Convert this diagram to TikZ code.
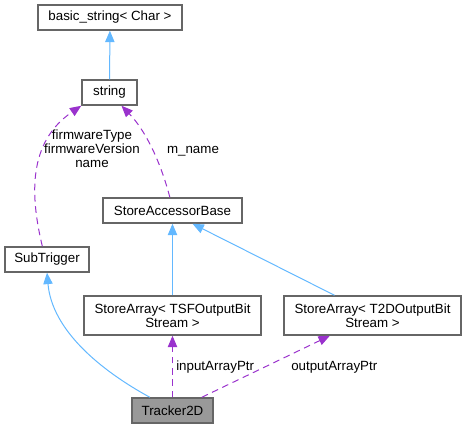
\documentclass[tikz,border=0pt]{standalone}
\usepackage{fontspec}
\setmainfont{Liberation Sans}
\usetikzlibrary{arrows.meta}
\definecolor{edgeblue}{HTML}{63B8FF}
\definecolor{edgepurple}{HTML}{9A32CD}
\definecolor{boxgray}{HTML}{666666}
\definecolor{mainfill}{HTML}{999999}
\tikzset{
  cls/.style={draw=boxgray,fill=white,line width=1.1pt,inner sep=0pt,
    minimum height=18.75pt,align=center,font=\fontsize{10}{10.5}\selectfont},
  inherit/.style={draw=edgeblue,line width=0.75pt,
    -{Triangle[length=8.5pt,width=7pt,fill=edgeblue]}},
  usage/.style={draw=edgepurple,line width=0.75pt,dash pattern=on 5pt off 3.5pt,
    -{Triangle[length=8.5pt,width=7pt,fill=edgepurple]}},
  lbl/.style={inner sep=0pt,align=center,font=\fontsize{10}{10.5}\selectfont}
}
\begin{document}
\begin{tikzpicture}[x=0.75pt,y=-0.75pt]
  \useasboundingbox (0,0) rectangle (466,429);
  % classes
  \node[cls,minimum width=108pt] (basicstr) at (110,17.5) {basic\_string< Char >};
  \node[cls,minimum width=41.25pt] (str) at (109.5,92.5) {string};
  \node[cls,minimum width=63pt] (subtrig) at (47,259.5) {SubTrigger};
  \node[cls,minimum width=104.25pt] (sab) at (172.5,210.5) {StoreAccessorBase};
  \node[cls,minimum width=132.75pt,minimum height=29.25pt] (tsfarr) at (172.5,315.5)
    {StoreArray< TSFOutputBit\\Stream >};
  \node[cls,minimum width=132.75pt,minimum height=29.25pt] (tdarr) at (372.5,315.5)
    {StoreArray< T2DOutputBit\\Stream >};
  \node[cls,fill=mainfill,minimum width=60.75pt] (tracker) at (172.5,410.5) {Tracker2D};
  % inheritance
  \draw[inherit] (str) -- (basicstr);
  \draw[inherit] (tsfarr) -- (sab);
  \draw[inherit] ([xshift=-28.5pt]tdarr.north) -- ([xshift=15pt]sab.south);
  \draw[inherit] ([xshift=-17pt]tracker.north) .. controls (100,370) and (52,330) .. (subtrig.south);
  % usage
  \draw[usage] ([xshift=-3.5pt]subtrig.north) .. controls (30,195) and (28,142) .. (str.south west);
  \draw[usage] ([xshift=-2pt]sab.north) .. controls (160,160) and (145,130) .. ([xshift=9pt]str.south);
  \draw[usage] (tracker) -- (tsfarr);
  \draw[usage] ([xshift=22pt]tracker.north) -- ([xshift=-32pt]tdarr.south);
  % labels
  \node[lbl] (fwlbl) at (92,149) {firmwareType\\firmwareVersion\\name};
  \node[lbl] (namelbl) at (193,151) {m\_name};
  \node[lbl,anchor=west] (inlbl) at (176,367) {inputArrayPtr};
  \node[lbl,anchor=west] (outlbl) at (291,367) {outputArrayPtr};
\end{tikzpicture}
\end{document}
